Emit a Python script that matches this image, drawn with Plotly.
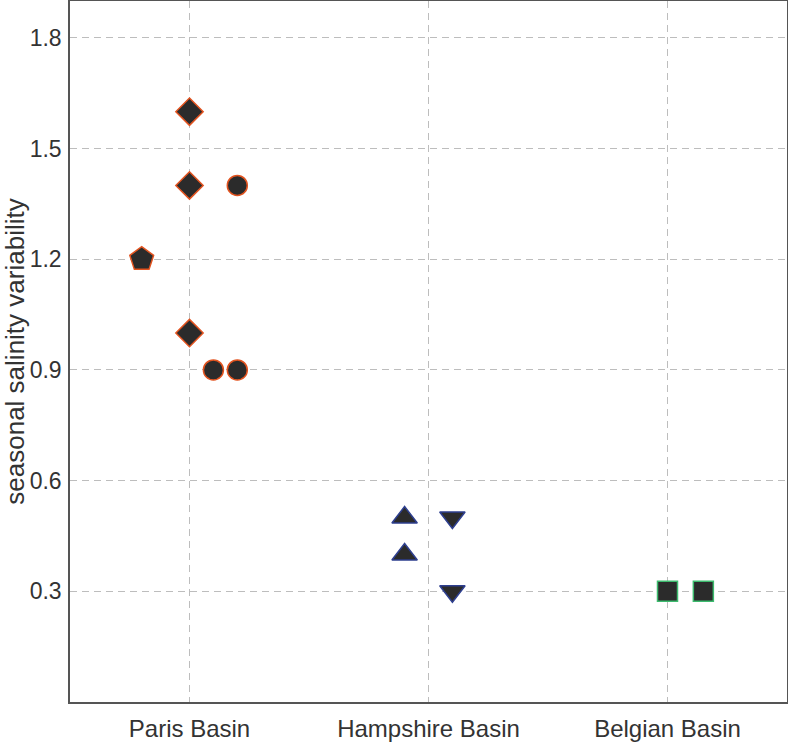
import plotly.graph_objects as go

categories = ["Paris Basin", "Hampshire Basin", "Belgian Basin"]

# x = basin index (1-based) plus the within-basin offset
paris_diamond_x = [1.0, 1.0, 1.0]
paris_diamond_y = [1.6, 1.4, 1.0]
paris_pentagon_x = [0.8]
paris_pentagon_y = [1.2]
paris_circle_x = [1.2, 1.1, 1.2]
paris_circle_y = [1.4, 0.9, 0.9]
hamp_up_x = [1.9, 1.9]
hamp_up_y = [0.5, 0.4]
hamp_down_x = [2.1, 2.1]
hamp_down_y = [0.5, 0.3]
belg_square_x = [3.0, 3.15]
belg_square_y = [0.3, 0.3]

y_ticks = [0.3, 0.6, 0.9, 1.2, 1.5, 1.8]
y_tick_labels = ["0.3", "0.6", "0.9", "1.2", "1.5", "1.8"]

FILL = "#2b2b2b"
ORANGE = "#e2531f"
BLUE = "#2e3f8f"
GREEN = "#3dbb6e"
FONT = "Liberation Sans, Arial, sans-serif"

groups = [
    (paris_diamond_x, paris_diamond_y, "diamond", 21, ORANGE),
    (paris_pentagon_x, paris_pentagon_y, "pentagon", 25, ORANGE),
    (paris_circle_x, paris_circle_y, "circle", 20, ORANGE),
    (hamp_up_x, hamp_up_y, "triangle-up", 22, BLUE),
    (hamp_down_x, hamp_down_y, "triangle-down", 22, BLUE),
    (belg_square_x, belg_square_y, "square", 20, GREEN),
]

fig = go.Figure()
for xs, ys, sym, sz, edge in groups:
    fig.add_trace(go.Scatter(
        x=xs, y=ys, mode="markers", showlegend=False,
        marker=dict(symbol=sym, size=sz, color=FILL,
                    line=dict(color=edge, width=1.5)),
    ))

axis_common = dict(
    showline=True, linecolor="#555555", linewidth=1.5, mirror=True,
    showgrid=True, gridcolor="#bdbdbd", griddash="7px,5px", gridwidth=1,
    zeroline=False, ticks="",
)

fig.update_layout(
    width=788, height=743,
    margin=dict(l=70, r=1, t=1, b=41),
    plot_bgcolor="white", paper_bgcolor="white",
    font=dict(family=FONT, color="#333333"),
    xaxis=dict(range=[0.5, 3.5], tickvals=[1, 2, 3], ticktext=categories,
               tickfont=dict(family=FONT, size=24, color="#333333"),
               ticklabelstandoff=4, automargin=False, **axis_common),
    yaxis=dict(range=[0, 1.9], tickvals=y_ticks, ticktext=y_tick_labels,
               tickfont=dict(family=FONT, size=23, color="#333333"),
               ticklabelstandoff=2, automargin=False,
               title=dict(text="seasonal salinity variability",
                          font=dict(family=FONT, size=26, color="#333333"),
                          standoff=0),
               **axis_common),
)

fig.write_html("out.html", config={"displayModeBar": False},
               post_script="document.body.style.margin='0px';")
